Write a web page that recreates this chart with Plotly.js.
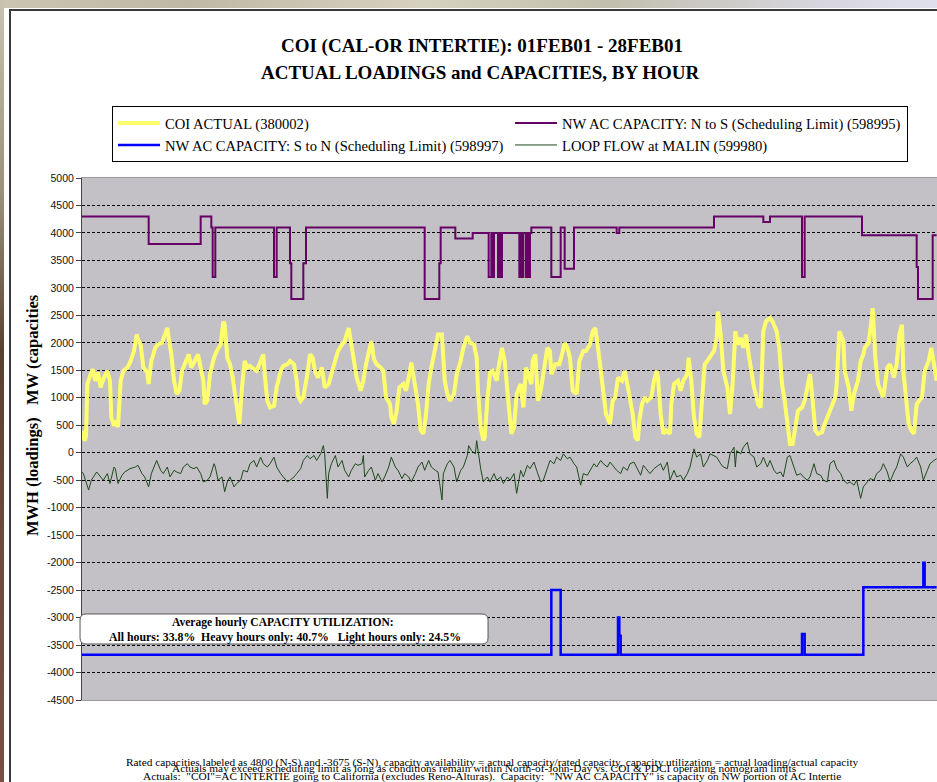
<!DOCTYPE html>
<html><head><meta charset="utf-8">
<script src="https://cdn.plot.ly/plotly-3.0.1.min.js"></script>
<style>
html,body{margin:0;padding:0;width:937px;height:782px;overflow:hidden;background:#fff;}
#wrap{position:relative;width:937px;height:782px;overflow:hidden;}
#topstrip{position:absolute;left:0;top:0;width:937px;height:8px;background:linear-gradient(90deg,#c9c6b2 0%,#bdb9a4 20%,#d5d2bf 45%,#c2bfae 65%,#d9d8e2 90%,#e0e0ee 100%);}
#leftstrip{position:absolute;left:0;top:0;width:4px;height:782px;background:linear-gradient(180deg,#c8c4b0 0%,#9a9078 25%,#5a4030 45%,#6d4b3e 70%,#7a4e42 100%);}
#frame{position:absolute;left:9px;top:9px;width:960px;height:800px;border-left:2px solid #3a3a3a;border-top:2px solid #3a3a3a;}
#chart{position:absolute;left:0;top:0;width:937px;height:782px;}
#cover{position:absolute;left:926px;top:11px;width:11px;height:166px;background:#fff;pointer-events:none;z-index:5;}
</style></head>
<body>
<div id="wrap">
<div id="topstrip"></div><div id="leftstrip"></div><div id="frame"></div>
<div id="chart"></div>
<div id="cover"></div>
</div>
<script>
// ---- Data (hour of month, MW) ----
const coiHours = [0,2,3,4,6,8,10,12,14,16,19,21,22,24,26,27,29,31,34,36,39,41,42,44,46,49,50,52,55,57,60,62,64,65,67,69,71,73,75,77,80,82,85,87,89,91,92,94,96,99,101,104,106,107,109,111,113,114,116,118,120,122,124,126,129,131,134,136,137,139,141,144,146,149,151,154,156,159,161,162,164,166,169,171,173,175,177,180,182,185,187,190,192,195,197,200,202,204,206,209,211,213,215,217,219,221,224,226,228,231,232,234,236,238,241,243,246,247,250,252,254,256,258,260,262,265,267,270,272,274,276,279,281,284,286,289,291,294,296,297,299,301,302,304,306,308,311,312,315,317,319,321,322,324,326,329,331,333,335,337,338,340,342,344,346,349,351,352,355,358,360,362,364,366,368,371,373,376,378,381,383,385,387,389,391,393,396,398,400,402,405,407,409,411,413,415,417,418,420,422,424,427,429,431,432,434,436,438,441,442,444,447,449,451,454,455,457,459,461,463,465,467,469,472,474,476,477,479,481,484,486,488,490,492,494,496,498,500,502,504,506,507,509,511,513,516,518,521,523,525,527,529,531,533,535,537,540,542,544,546,548,550,552,555,557,560,562,565,566,568,571,572,575,577,579,582,584,586,587,590,592,593,595,597,599,601,604,606,609,611,613,615,616,618,620,622,624,626,628,630,632,635,637,639,641];
const coiActual = [400,220,310,1250,1400,1520,1310,1460,1190,1340,1490,1310,645,495,585,465,1310,1490,1550,1640,1850,2150,2060,1970,1550,1460,1250,1670,1910,1970,2000,2150,2270,2090,1790,1310,1070,1130,1490,1610,1790,1550,1700,1790,1550,1310,885,945,1430,1730,1850,1970,2390,2330,1730,1610,1370,1190,765,525,1190,1670,1550,1580,1520,1490,1670,1790,1430,945,825,855,1190,1490,1580,1610,1670,1610,1310,1040,945,1010,1430,1790,1730,1460,1370,1550,1190,1250,1430,1670,1850,1970,2030,2270,1970,1730,1370,1130,1310,1610,1850,2030,1700,1610,1550,1490,1010,885,645,525,765,1190,1250,1130,1490,1640,1190,885,405,345,705,1250,1550,1970,2150,2150,1310,1070,945,1070,1430,1670,1910,2120,2000,1970,1730,1130,465,225,280,945,1460,1490,1310,1490,1910,1670,1070,645,345,465,1070,1250,825,1550,1370,1250,1670,1790,945,1130,1430,1910,1850,1430,1610,1610,1790,2000,1910,1730,1130,1070,1670,1850,1850,1970,2210,2270,1910,1550,1070,705,525,945,1010,1370,1310,1490,1250,945,705,280,225,585,885,1010,945,1010,1310,1490,1370,705,345,405,345,885,1250,1310,1130,1310,1430,1730,1310,645,345,280,945,1610,1670,1790,1850,2090,2570,2150,1490,1190,705,1250,2210,1970,2090,1910,2150,1790,1490,1190,1010,885,825,2210,2390,2450,2390,2210,1910,1250,945,465,160,160,465,765,825,945,1190,1430,945,405,345,375,525,705,825,1010,1250,2210,2030,1490,1190,765,1070,1310,1670,1790,1910,2000,2390,2630,1730,1250,1130,1010,1550,1610,1370,1610,2150,2330,1490,1070,525,405,345,885,945,1010,1490,1670,1910,1610,1310];

const nsHours = [0,50,89,97,98,100,144,146,156,157,166,168,257,268,269,280,293,305,307,308,309,312,313,314,315,328,329,330,331,333,334,335,336,337,352,359,362,369,401,403,474,511,516,540,542,585,626,627,638,641];
const nsCapacity = [4300,3800,4300,4100,3200,4100,3200,4100,3450,2800,3450,4100,2800,3450,4100,3900,4000,3200,4000,3200,4000,3200,4000,3200,4000,3200,4000,3200,4000,3200,4000,3200,4000,4100,3200,4100,3350,4100,4000,4100,4300,4200,4300,3200,4300,3960,3380,2800,3960,3960];

const snHours = [0,352,359,402,403,404,540,542,586,631,632,641];
const snCapacity = [-3675,-2500,-3675,-3000,-3330,-3675,-3300,-3675,-2450,-2000,-2450,-2450];

const loopHours = [0,1,5,7,11,14,16,19,21,24,25,27,30,32,36,40,42,45,47,50,52,56,59,61,64,66,69,71,74,76,79,81,84,86,89,91,94,96,99,100,102,105,107,109,111,114,116,119,121,124,126,129,131,134,136,139,141,144,146,149,151,154,156,159,161,164,166,169,171,174,176,179,181,182,184,185,187,190,192,195,197,200,202,205,207,210,211,212,215,217,220,222,225,227,230,232,235,237,240,242,245,247,250,252,255,257,260,262,265,267,270,271,274,276,279,281,284,286,289,290,292,295,296,299,301,304,306,309,311,314,316,319,321,324,326,329,331,334,336,339,341,344,346,349,351,354,356,359,361,364,366,369,371,374,376,379,381,384,386,389,391,394,396,399,401,404,406,409,411,414,416,419,421,424,426,429,431,434,436,439,441,444,446,449,451,454,456,459,461,464,466,469,471,474,476,479,481,484,486,489,490,491,494,496,499,501,504,506,509,511,514,516,519,521,524,526,529,531,534,536,539,541,544,546,549,551,554,556,559,561,564,566,569,571,574,576,579,581,584,586,589,591,594,596,599,601,604,606,609,611,614,616,619,621,624,626,629,631,634,636,639,641];
const loopFlow = [-350,-380,-680,-500,-350,-440,-500,-380,-560,-260,-290,-560,-410,-350,-290,-260,-230,-380,-440,-620,-380,-140,-320,-380,-260,-440,-320,-350,-380,-260,-200,-260,-290,-260,-380,-530,-500,-440,-200,-260,-500,-440,-710,-530,-440,-620,-560,-500,-320,-350,-200,-140,-260,-80,-200,-260,-200,-80,-260,-380,-440,-530,-500,-440,-380,-290,-140,-50,-110,-50,-140,-20,130,-20,-830,-380,-200,-50,-260,-140,-320,-440,-320,-200,-230,-200,-50,-440,-320,-260,-500,-380,-530,-440,-260,-80,-260,-320,-470,-380,-440,-530,-380,-260,-170,-320,-140,-260,-320,-350,-860,-380,-200,-140,-260,-530,-320,-260,-50,130,40,-20,220,-290,-530,-440,-530,-380,-500,-440,-560,-440,-500,-380,-740,-320,-440,-230,-290,-170,-320,-530,-500,-260,-140,-200,-80,-140,-20,-110,-80,-200,-260,-590,-380,-410,-320,-200,-260,-140,-200,-260,-170,-260,-320,-380,-260,-320,-200,-170,-260,-410,-230,-320,-380,-290,-260,-200,-320,-170,-500,-320,-440,-410,-500,-380,-260,70,-80,-20,-260,-140,-20,-50,-80,-200,-260,-290,-20,100,-260,40,-20,100,190,-20,-80,-260,-200,-80,-260,-140,-320,-380,-350,-440,-80,-50,-260,-410,-380,-440,-500,-440,-200,-380,-410,-500,-530,-200,-140,-290,-380,-500,-560,-530,-590,-500,-830,-620,-530,-470,-500,-380,-320,-200,-350,-530,-350,-260,-20,-80,-260,-200,-140,-80,-260,-500,-320,-200,-140,-110];

const yTicks = [-4500,-4000,-3500,-3000,-2500,-2000,-1500,-1000,-500,0,500,1000,1500,2000,2500,3000,3500,4000,4500,5000];

const titleLine1 = 'COI (CAL-OR INTERTIE): 01FEB01 - 28FEB01';
const titleLine2 = 'ACTUAL LOADINGS and CAPACITIES, BY HOUR';
const utilLine1 = 'Average hourly CAPACITY UTILIZATION:';
const utilLine2 = 'All hours: 33.8%\u00a0 Heavy hours only: 40.7%\u00a0\u00a0 Light hours only: 24.5%';
const note1 = 'Rated capacities labeled as 4800 (N-S) and -3675 (S-N), capacity availability = actual capacity/rated capacity, capacity utilization = actual loading/actual capacity';
const note2 = 'Actuals may exceed scheduling limit as long as conditions remain within North-of-John-Day vs. COI & PDCI operating nomogram limits';
const note3 = 'Actuals:\u00a0 "COI"=AC INTERTIE going to California (excludes Reno-Alturas).\u00a0 Capacity:\u00a0 "NW AC CAPACITY" is capacity on NW portion of AC Intertie';

const serif = '"Liberation Serif", "Times New Roman", serif';
const sans = '"Liberation Sans", Arial, sans-serif';

const traces = [
  {x: coiHours, y: coiActual, type: 'scatter', mode: 'lines', name: 'COI ACTUAL (380002)',
   line: {color: '#FFFF6E', width: 4}},
  {x: nsHours, y: nsCapacity, type: 'scatter', mode: 'lines', name: 'NW AC CAPACITY: N to S (Scheduling Limit) (598995)',
   line: {color: '#660066', width: 2, shape: 'hv'}},
  {x: snHours, y: snCapacity, type: 'scatter', mode: 'lines', name: 'NW AC CAPACITY: S to N (Scheduling Limit) (598997)',
   line: {color: '#0000FF', width: 2.5, shape: 'hv'}},
  {x: loopHours, y: loopFlow, type: 'scatter', mode: 'lines', name: 'LOOP FLOW at MALIN (599980)',
   line: {color: '#1E4A1E', width: 1}}
];

// rounded box for the utilization note (paper coords)
const bx0 = -0.0023, bx1 = 0.4749, by0 = 0.1073, by1 = 0.1648, rx = 0.007, ry = 0.0115;
const boxPath = `M ${bx0+rx},${by1} L ${bx1-rx},${by1} Q ${bx1},${by1} ${bx1},${by1-ry} L ${bx1},${by0+ry} Q ${bx1},${by0} ${bx1-rx},${by0} L ${bx0+rx},${by0} Q ${bx0},${by0} ${bx0},${by0+ry} L ${bx0},${by1-ry} Q ${bx0},${by1} ${bx0+rx},${by1} Z`;

const layout = {
  width: 937, height: 782,
  margin: {l: 82, r: 0, t: 178, b: 82},
  paper_bgcolor: 'rgba(0,0,0,0)',
  plot_bgcolor: '#C3C1C5',
  title: {text: titleLine1, font: {family: serif, size: 19, color: '#000', weight: 'bold'},
          x: 482/937, xref: 'container', xanchor: 'center', y: 1 - 45/782, yref: 'container', yanchor: 'middle'},
  showlegend: true,
  legend: {orientation: 'h', x: 0.0351, y: (700-106)/522, xanchor: 'left', yanchor: 'top',
           bgcolor: '#fff', bordercolor: '#000', borderwidth: 1,
           font: {family: serif, size: 14.6, color: '#000'}, itemwidth: 42,
           entrywidth: 340, entrywidthmode: 'pixels', traceorder: 'normal'},
  xaxis: {range: [0, 641.25], showgrid: false, zeroline: false, showticklabels: false, ticks: '',
          showline: true, linecolor: '#9a9a9a', linewidth: 1, mirror: true, fixedrange: true},
  yaxis: {range: [-4500, 5000], tickvals: yTicks, ticktext: yTicks.map(String),
          showgrid: true, gridcolor: '#000', gridwidth: 1, griddash: '3px,2px', zeroline: false,
          showline: true, linecolor: '#444', linewidth: 1, ticks: 'outside', ticklen: 5, tickcolor: '#444',
          tickfont: {family: sans, size: 10.5, color: '#111'}, fixedrange: true},
  shapes: [
    {type: 'path', xref: 'paper', yref: 'paper', path: boxPath, fillcolor: '#fff', line: {color: '#555', width: 1}, layer: 'above'}
  ],
  annotations: [
    {text: titleLine2, xref: 'paper', yref: 'paper', x: (480-82)/855, y: (700-72)/522, xanchor: 'center', yanchor: 'middle',
     showarrow: false, font: {family: serif, size: 19, color: '#000', weight: 'bold'}},
    {text: 'MWH (loadings)\u00a0\u00a0 MW (capacities', xref: 'paper', yref: 'paper', x: (32-82)/855, y: (700-415)/522,
     xanchor: 'center', yanchor: 'middle', textangle: -90, showarrow: false,
     font: {family: serif, size: 16.5, color: '#000', weight: 'bold'}},
    {text: utilLine1, xref: 'paper', yref: 'paper', x: (283-82)/855, y: (700-622)/522, xanchor: 'center', yanchor: 'middle',
     showarrow: false, font: {family: serif, size: 11.5, color: '#000', weight: 'bold'}},
    {text: utilLine2, xref: 'paper', yref: 'paper', x: (285-82)/855, y: (700-637)/522, xanchor: 'center', yanchor: 'middle',
     showarrow: false, font: {family: serif, size: 11.8, color: '#000', weight: 'bold'}},
    {text: note1, xref: 'paper', yref: 'paper', x: (492-82)/855, y: (700-762)/522, xanchor: 'center', yanchor: 'middle',
     showarrow: false, font: {family: serif, size: 11.3, color: '#000'}},
    {text: note2, xref: 'paper', yref: 'paper', x: (484-82)/855, y: (700-768)/522, xanchor: 'center', yanchor: 'middle',
     showarrow: false, font: {family: serif, size: 11.3, color: '#000'}},
    {text: note3, xref: 'paper', yref: 'paper', x: (492-82)/855, y: (700-776)/522, xanchor: 'center', yanchor: 'middle',
     showarrow: false, font: {family: serif, size: 11.3, color: '#000'}}
  ]
};

Plotly.newPlot('chart', traces, layout, {staticPlot: true, displayModeBar: false});
</script>
</body></html>
